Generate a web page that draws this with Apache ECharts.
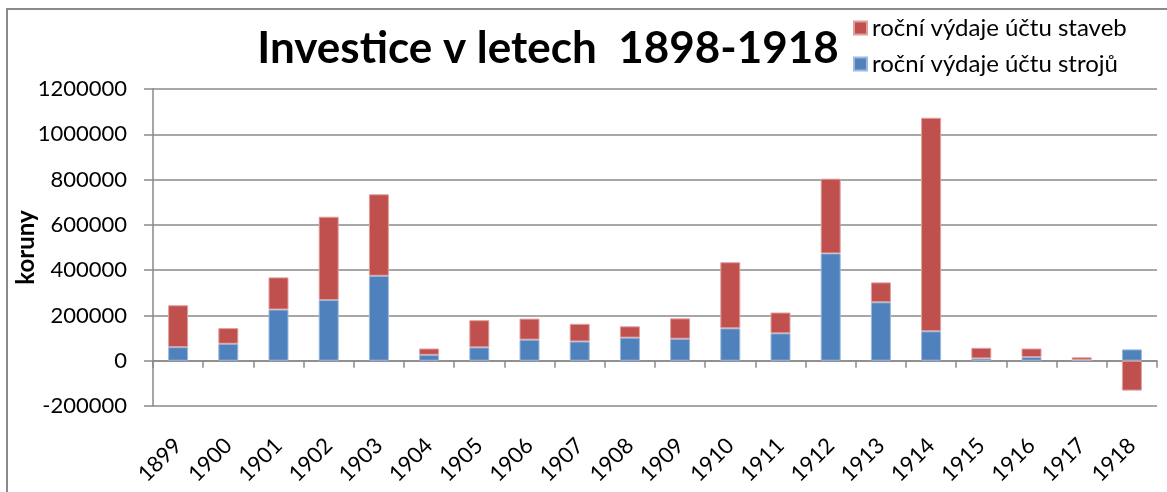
<!DOCTYPE html>
<html>
<head>
<meta charset="utf-8">
<title>Investice v letech 1898-1918</title>
<script src="https://cdn.jsdelivr.net/npm/echarts@6/dist/echarts.min.js"></script>
<style>
    html, body { margin: 0; padding: 0; background: #fff; }
    #chart { width: 1167px; height: 492px; }
</style>
</head>
<body>
<div id="chart"></div>
<script>
// data
var years = ['1899', '1900', '1901', '1902', '1903', '1904', '1905', '1906', '1907', '1908',
    '1909', '1910', '1911', '1912', '1913', '1914', '1915', '1916', '1917', '1918'];
var strojeValues = [60000, 75000, 226000, 268000, 375000, 26000, 59000, 93000, 85000, 102000,
    97000, 143000, 121000, 474000, 258000, 130000, 10000, 16000, 3000, 50000];
var stavbyValues = [185000, 69000, 142000, 368000, 360000, 28000, 120000, 93000, 78000, 50000,
    90000, 292000, 92000, 330000, 88000, 943000, 47000, 38000, 12000, -132000];
var yTicks = { min: -200000, max: 1200000, step: 200000 };
var seriesNames = ['roční výdaje účtu staveb', 'roční výdaje účtu strojů'];

;(function (window, document) {
    var font = 'Lato, "Open Sans", sans-serif';
    var gridColor = '#8a8a8a';

    var option = {
        backgroundColor: '#fff',
        animation: false,
        title: {
            text: 'Investice v letech  1898-1918',
            left: 543,
            textAlign: 'center',
            top: 22,
            textStyle: { fontFamily: font, fontSize: 44, fontWeight: 'bold', color: '#000' }
        },
        legend: {
            orient: 'vertical',
            left: 848,
            top: 11,
            itemWidth: 13,
            itemHeight: 13,
            itemGap: 12,
            icon: 'rect',
            data: seriesNames,
            textStyle: { fontFamily: font, fontSize: 24, color: '#000' }
        },
        // ramecek grafu (levy a horni okraj)
        graphic: [{
            type: 'polyline',
            shape: { points: [[7, 492], [7, 9], [1167, 9]] },
            style: { stroke: gridColor, lineWidth: 2, fill: null },
            silent: true
        }],
        grid: { left: 153, right: 10, top: 89, bottom: 86, outerBoundsMode: 'none', containLabel: false },
        xAxis: {
            type: 'category',
            data: years,
            axisLine: { onZero: true, lineStyle: { color: gridColor, width: 1.5 } },
            axisTick: { show: true, interval: 0, length: 7, lineStyle: { color: gridColor, width: 1.5 } },
            axisLabel: {
                interval: 0,
                rotate: 45,
                margin: 36,
                fontFamily: font,
                fontSize: 22,
                color: '#000'
            },
            splitLine: { show: false }
        },
        yAxis: {
            type: 'value',
            min: yTicks.min,
            max: yTicks.max,
            interval: yTicks.step,
            name: 'koruny',
            nameLocation: 'middle',
            nameGap: 115,
            nameMoveOverlap: false,
            nameTextStyle: { fontFamily: font, fontSize: 24, fontWeight: 'bold', color: '#000' },
            axisLine: { show: true, lineStyle: { color: gridColor, width: 1.5 } },
            axisTick: { show: true, length: 9, lineStyle: { color: gridColor, width: 1.5 } },
            axisLabel: {
                margin: 26,
                fontFamily: font,
                fontSize: 22,
                color: '#000',
                formatter: function (v) { return String(v); }
            },
            splitLine: { show: true, lineStyle: { color: gridColor, width: 1.5 } }
        },
        series: [
            {
                name: seriesNames[1],
                type: 'bar',
                stack: 'total',
                barWidth: 20,
                itemStyle: { color: '#4F81BD', borderColor: '#9DB9DC', borderWidth: 1 },
                data: strojeValues
            },
            {
                name: seriesNames[0],
                type: 'bar',
                stack: 'total',
                barWidth: 20,
                itemStyle: { color: '#C0504D', borderColor: '#E0A09E', borderWidth: 1 },
                data: stavbyValues
            }
        ]
    };

    var myChart = echarts.init(document.getElementById('chart'));
    myChart.setOption(option);
})(window, document);
</script>
</body>
</html>
